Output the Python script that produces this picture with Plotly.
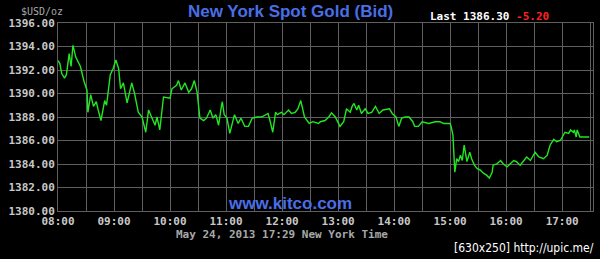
import plotly.graph_objects as go

day = "2013-05-24"
times = [
    "08:00", "08:02", "08:04", "08:07", "08:09", "08:12", "08:14", "08:16", "08:19", "08:24",
    "08:28", "08:31", "08:32", "08:35", "08:38", "08:41", "08:43", "08:46", "08:50", "08:52",
    "08:56", "08:59", "09:02", "09:05", "09:07", "09:10", "09:14", "09:19", "09:22", "09:26",
    "09:30", "09:34", "09:37", "09:41", "09:44", "09:46", "09:49", "09:53", "10:00", "10:02",
    "10:07", "10:09", "10:12", "10:16", "10:20", "10:23", "10:26", "10:29", "10:32", "10:36",
    "10:39", "10:43", "10:46", "10:49", "10:52", "10:55", "10:56", "10:58", "11:01", "11:04",
    "11:09", "11:13", "11:16", "11:20", "11:24", "11:28", "11:33", "11:38", "11:45", "11:47",
    "11:50", "11:53", "11:55", "11:59", "12:02", "12:07", "12:10", "12:14", "12:17", "12:20",
    "12:24", "12:29", "12:33", "12:39", "12:41", "12:46", "12:50", "12:53", "12:57", "13:02",
    "13:06", "13:09", "13:13", "13:15", "13:17", "13:20", "13:22", "13:25", "13:29", "13:32",
    "13:36", "13:40", "13:44", "13:48", "13:55", "13:58", "14:02", "14:05", "14:08", "14:12",
    "14:16", "14:20", "14:22", "14:26", "14:30", "14:37", "14:44", "14:49", "14:53", "14:56",
    "15:00", "15:01", "15:03", "15:05", "15:07", "15:09", "15:11", "15:13", "15:15", "15:18",
    "15:21", "15:23", "15:26", "15:29", "15:32", "15:36", "15:39", "15:42", "15:45", "15:46",
    "15:50", "15:54", "15:57", "16:01", "16:04", "16:08", "16:11", "16:15", "16:19", "16:22",
    "16:26", "16:31", "16:35", "16:40", "16:44", "16:47", "16:51", "16:54", "16:58", "17:01",
    "17:03", "17:07", "17:09", "17:12", "17:13", "17:15", "17:16", "17:19", "17:29",
]
prices = [
    1392.8, 1392.55, 1391.7, 1391.3, 1391.6, 1393.4, 1392.3, 1394.1, 1393.1, 1392.3,
    1391.0, 1390.3, 1388.4, 1389.9, 1388.9, 1389.3, 1388.6, 1387.7, 1389.4, 1389.0,
    1391.6, 1392.1, 1392.85, 1392.1, 1390.4, 1390.9, 1389.2, 1390.9, 1390.0, 1388.4,
    1388.0, 1386.7, 1388.6, 1387.9, 1387.3, 1388.0, 1386.9, 1389.7, 1389.6, 1390.4,
    1390.7, 1391.1, 1390.3, 1390.9, 1390.1, 1390.4, 1391.1, 1390.1, 1387.9, 1387.7,
    1387.9, 1388.6, 1387.9, 1388.2, 1387.3, 1388.9, 1389.3, 1388.2, 1387.9, 1386.6,
    1388.2, 1387.45, 1387.9, 1387.2, 1387.2, 1387.9, 1388.0, 1388.0, 1388.3, 1387.7,
    1386.7, 1388.4, 1388.2, 1388.4, 1388.2, 1388.6, 1388.3, 1388.4, 1388.7, 1389.4,
    1388.0, 1387.45, 1387.6, 1387.45, 1387.6, 1387.7, 1388.0, 1388.35, 1388.0, 1387.2,
    1387.6, 1388.7, 1388.4, 1388.9, 1389.15, 1388.6, 1389.0, 1388.3, 1388.7, 1388.3,
    1388.4, 1388.9, 1388.3, 1388.6, 1388.7, 1388.3, 1388.0, 1387.2, 1387.9, 1388.0,
    1388.0, 1387.6, 1387.2, 1387.2, 1387.6, 1387.45, 1387.6, 1387.6, 1387.45, 1387.45,
    1387.45, 1387.2, 1386.45, 1383.3, 1384.45, 1384.2, 1384.75, 1384.3, 1385.6, 1384.2,
    1385.0, 1384.45, 1383.9, 1383.6, 1383.5, 1383.2, 1383.05, 1382.8, 1383.3, 1383.9,
    1384.0, 1384.3, 1384.0, 1383.75, 1384.0, 1384.3, 1384.2, 1383.9, 1384.3, 1384.6,
    1384.3, 1385.0, 1384.6, 1384.45, 1384.75, 1385.6, 1386.1, 1385.9, 1386.0, 1386.45,
    1386.7, 1386.6, 1386.9, 1386.7, 1386.9, 1386.3, 1386.9, 1386.3, 1386.3,
]
hour_ticks = ["08:00", "09:00", "10:00", "11:00", "12:00", "13:00", "14:00", "15:00", "16:00", "17:00"]
x_range = ["08:00", "17:33"]
y_ticks = [1380, 1382, 1384, 1386, 1388, 1390, 1392, 1394, 1396]

title_text = "New York Spot Gold (Bid)"
unit_text = "$USD/oz"
last_text = "Last 1386.30"
change_text = "-5.20"
site_text = "www.kitco.com"
date_text = "May 24, 2013 17:29 New York Time"
credit_text = "[630x250] http://upic.me/"

n = min(len(times), len(prices))
xs = [f"{day} {t}" for t in times[:n]]
ys = prices[:n]

GRID = "#5f5f5f"
MONO = "DejaVu Sans Mono"

fig = go.Figure()
fig.add_trace(go.Scatter(x=xs, y=ys, mode="lines",
                         line=dict(color="#22e622", width=1.4),
                         hoverinfo="skip", showlegend=False))

fig.update_layout(
    width=600, height=259,
    margin=dict(l=58, r=7, t=23, b=48),
    paper_bgcolor="#000000", plot_bgcolor="#000000",
    xaxis=dict(
        type="date",
        range=[f"{day} {x_range[0]}", f"{day} {x_range[1]}"],
        tickvals=[f"{day} {t}" for t in hour_ticks],
        ticktext=hour_ticks,
        showgrid=True, gridcolor=GRID, gridwidth=1,
        minor=dict(dtick=1800000, tick0=f"{day} 08:00", showgrid=True, gridcolor=GRID, gridwidth=1),
        showline=True, linecolor=GRID, linewidth=1, mirror=True,
        zeroline=False, ticks="",
        tickfont=dict(family=MONO, size=11, color="#c8c8c8", weight="bold"),
    ),
    yaxis=dict(
        range=[1380, 1396],
        tickvals=y_ticks,
        ticktext=[f"{v:.2f}" for v in y_ticks],
        showgrid=True, gridcolor=GRID, gridwidth=1,
        showline=True, linecolor=GRID, linewidth=1, mirror=True,
        zeroline=False, ticks="",
        tickfont=dict(family=MONO, size=11, color="#c8c8c8", weight="bold"),
    ),
)

def px_x(p):
    return (p - 58) / 535.0

def px_y(p):
    return (211 - p) / 188.0

fig.add_annotation(text=title_text, xref="paper", yref="paper", x=px_x(290), y=px_y(12),
                   xanchor="center", yanchor="middle", showarrow=False,
                   font=dict(family="Liberation Sans", size=17, color="#4a6ee6", weight="bold"))
fig.add_annotation(text=unit_text, xref="paper", yref="paper", x=px_x(19), y=px_y(11),
                   xanchor="left", yanchor="middle", showarrow=False,
                   font=dict(family=MONO, size=10, color="#a8a8a8"))
fig.add_annotation(text=f"{last_text} <span style='color:#ff2020'>{change_text}</span>",
                   xref="paper", yref="paper", x=px_x(428), y=px_y(16),
                   xanchor="left", yanchor="middle", showarrow=False,
                   font=dict(family=MONO, size=11, color="#ffffff", weight="bold"))
fig.add_annotation(text=site_text, xref="paper", yref="paper", x=px_x(290), y=px_y(203),
                   xanchor="center", yanchor="middle", showarrow=False,
                   font=dict(family="Liberation Sans", size=17, color="#4a6ee6", weight="bold"))
fig.add_annotation(text=date_text, xref="paper", yref="paper", x=px_x(281.5), y=px_y(234),
                   xanchor="center", yanchor="middle", showarrow=False,
                   font=dict(family=MONO, size=11, color="#a8a8a8", weight="bold"))
fig.add_annotation(text=credit_text, xref="paper", yref="paper", x=px_x(596), y=px_y(248),
                   xanchor="right", yanchor="middle", showarrow=False,
                   font=dict(family="DejaVu Sans Condensed", size=12, color="#ffffff"))

fig.write_html("out.html")
